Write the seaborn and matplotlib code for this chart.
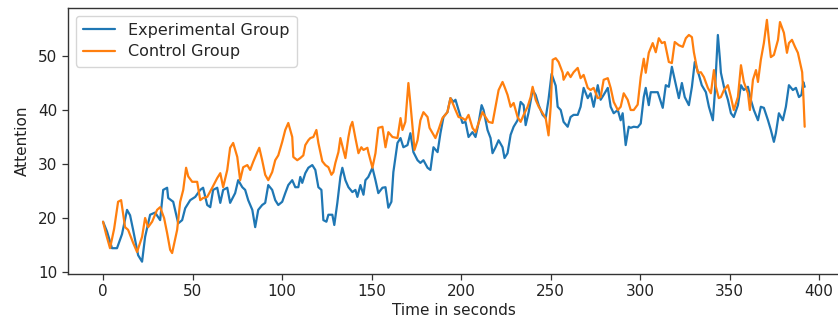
import matplotlib
matplotlib.use("Agg")
import matplotlib.pyplot as plt
import seaborn as sns
import pandas as pd

# Experimental group (blue)
exp_time = [0, 2.2, 5.0, 7.8, 10.6, 13.4, 15.1, 16.8, 19.6, 21.8, 23.5, 26.3, 29.1, 31.9, 33.6, 35.8, 36.4,
            39.2, 42.0, 44.2, 45.9, 48.7, 51.5, 54.3, 55.9, 58.2, 59.9, 61.5, 63.8, 65.5, 67.1, 69.4, 71.0,
            73.8, 75.5, 77.8, 79.4, 81.1, 83.4, 85.0, 86.7, 88.9, 90.6, 92.3, 94.5, 96.2, 97.9, 100.1, 101.8,
            103.5, 105.7, 107.4, 109.1, 110.2, 111.3, 113.0, 114.7, 116.9, 118.6, 120.3, 122.0, 123.1, 124.8,
            125.9, 128.1, 129.2, 130.9, 132.6, 133.7, 135.4, 137.1, 139.3, 141.0, 142.1, 143.8, 145.5, 146.6,
            148.2, 150.5, 152.2, 153.8, 156.1, 157.8, 159.4, 161.1, 162.2, 164.5, 166.2, 167.8, 170.1, 171.7,
            173.4, 175.7, 177.3, 179.0, 181.3, 182.9, 184.6, 186.9, 188.5, 190.2, 192.4, 194.1, 195.8, 196.9,
            198.6, 200.8, 202.5, 204.2, 206.4, 208.1, 209.8, 211.5, 212.6, 214.8, 216.5, 217.6, 219.3, 221.0,
            223.2, 224.3, 226.0, 227.7, 229.4, 231.6, 233.3, 235.0, 236.1, 237.8, 240.0, 241.7, 243.4, 245.6,
            247.3, 248.9, 250.6, 252.9, 254.0, 255.7, 257.3, 259.6, 261.2, 262.9, 265.2, 266.8, 268.5, 270.8,
            272.4, 274.1, 276.4, 278.0, 279.7, 282.0, 283.6, 285.3, 287.6, 289.2, 290.3, 292.0, 293.7, 294.8,
            296.5, 298.7, 300.4, 302.1, 303.2, 304.9, 306.0, 307.7, 309.9, 311.6, 312.7, 314.4, 316.1, 317.8,
            319.4, 321.7, 323.4, 325.0, 327.3, 329.0, 330.6, 332.9, 334.5, 336.8, 338.5, 340.7, 341.8, 343.5,
            344.6, 345.2, 346.9, 349.1, 350.8, 352.4, 354.7, 356.4, 358.0, 360.3, 361.9, 363.6, 365.9, 367.5,
            369.2, 371.5, 373.1, 374.8, 375.9, 377.6, 379.8, 381.5, 383.2, 385.4, 387.1, 388.8, 390.2, 391.2,
            392.0]
exp_attention = [19.3, 17.5, 14.4, 14.4, 17.0, 21.5, 20.5, 17.8, 13.1, 11.9, 16.5, 20.6, 21.0, 19.6, 25.2, 25.6,
                 23.7, 23.0, 19.0, 19.6, 21.8, 23.3, 23.9, 25.2, 25.6, 22.4, 22.0, 25.2, 25.6, 22.8, 25.2, 25.6,
                 22.8, 24.6, 27.0, 25.7, 25.2, 23.3, 21.5, 18.3, 21.5, 22.4, 22.8, 26.1, 25.2, 23.3, 22.4, 23.0,
                 24.6, 26.1, 27.0, 25.7, 25.7, 27.6, 26.5, 28.3, 29.3, 29.8, 28.9, 25.7, 25.2, 19.6, 19.3, 20.6,
                 20.6, 18.7, 22.8, 27.6, 29.3, 27.0, 25.7, 24.8, 25.2, 23.9, 26.1, 24.3, 27.0, 27.6, 29.3, 27.0,
                 24.6, 25.6, 25.7, 21.9, 23.0, 28.5, 33.9, 34.8, 33.1, 33.5, 35.7, 32.2, 30.7, 30.2, 30.7, 29.3,
                 28.9, 33.1, 32.2, 35.7, 38.7, 39.6, 42.2, 41.5, 41.9, 40.0, 37.6, 37.8, 35.0, 35.9, 35.0, 37.6,
                 40.9, 40.0, 36.3, 34.8, 32.0, 33.1, 34.4, 33.1, 31.1, 32.0, 35.4, 36.9, 38.1, 41.5, 40.9, 37.2,
                 39.6, 43.7, 42.8, 40.9, 39.1, 38.5, 42.0, 46.7, 44.5, 40.6, 40.0, 37.8, 36.9, 38.7, 39.1, 39.1,
                 40.6, 44.1, 42.2, 43.1, 40.6, 44.6, 41.9, 42.8, 44.1, 40.6, 39.4, 40.0, 38.1, 39.4, 33.5, 36.9,
                 36.7, 36.9, 36.8, 37.5, 42.4, 44.1, 40.9, 43.3, 43.3, 43.3, 41.5, 40.4, 44.6, 44.3, 48.0, 45.6,
                 42.2, 45.0, 42.4, 40.9, 44.3, 48.9, 46.5, 44.6, 43.3, 40.6, 38.1, 43.1, 53.9, 49.6, 46.9, 44.3,
                 41.9, 39.4, 38.7, 40.9, 44.6, 43.7, 44.3, 41.9, 40.0, 38.1, 40.6, 40.4, 38.1, 36.3, 34.1, 35.7,
                 39.4, 38.1, 40.6, 44.6, 43.7, 44.1, 42.4, 42.8, 45.2, 44.3]

# Control group (orange)
ctrl_time = [0, 1.7, 3.9, 6.2, 8.4, 10.1, 12.3, 14.0, 16.8, 19.0, 21.8, 23.5, 25.2, 27.4, 30.2, 31.9, 34.1,
             35.8, 37.5, 38.6, 41.4, 43.1, 44.8, 46.4, 47.6, 49.8, 52.6, 54.3, 55.9, 58.2, 61.0, 63.8, 65.5,
             67.1, 69.4, 71.0, 72.7, 75.0, 76.6, 78.3, 80.6, 82.2, 83.9, 86.2, 87.3, 88.9, 90.6, 92.3, 94.5,
             96.2, 97.9, 100.1, 101.8, 103.5, 105.7, 106.3, 108.5, 110.2, 111.9, 113.0, 114.7, 115.8, 117.5,
             119.2, 120.3, 122.5, 124.2, 125.9, 127.6, 128.7, 129.8, 131.5, 132.6, 134.3, 135.4, 137.1, 138.2,
             139.3, 141.0, 142.7, 144.3, 145.5, 147.7, 148.2, 149.4, 150.5, 152.2, 153.8, 156.1, 157.8, 159.4,
             161.7, 164.5, 166.2, 167.3, 168.9, 170.6, 171.7, 172.9, 174.0, 175.7, 177.3, 179.0, 181.3, 182.4,
             184.1, 185.7, 187.4, 189.6, 192.4, 194.1, 195.8, 196.9, 198.6, 200.8, 202.5, 204.2, 206.4, 208.1,
             209.8, 212.0, 213.7, 215.4, 217.6, 219.3, 221.0, 223.2, 224.3, 226.0, 227.7, 229.4, 231.6, 233.3,
             235.0, 237.2, 238.9, 240.0, 241.7, 243.4, 245.6, 247.3, 248.9, 250.1, 251.2, 252.9, 254.5, 256.8,
             257.3, 259.6, 261.2, 262.9, 265.2, 266.8, 268.5, 270.8, 272.4, 274.1, 276.4, 278.0, 279.7, 282.0,
             283.6, 285.3, 287.6, 289.2, 290.9, 293.1, 294.8, 296.5, 298.7, 300.4, 302.1, 303.2, 304.9, 307.1,
             308.8, 310.5, 312.2, 313.8, 316.1, 317.8, 319.4, 321.7, 323.9, 325.6, 327.3, 329.0, 330.1, 332.3,
             334.0, 335.7, 337.9, 339.6, 341.3, 342.4, 344.0, 345.2, 346.9, 349.1, 350.8, 352.4, 354.7, 356.4,
             358.0, 360.3, 361.4, 363.1, 364.8, 365.9, 367.5, 369.2, 370.9, 372.0, 373.1, 374.8, 377.1, 378.2,
             380.4, 382.1, 383.2, 384.9, 386.6, 388.2, 389.9, 390.6, 391.3, 392.0]
ctrl_attention = [19.3, 17.0, 14.4, 18.0, 23.0, 23.3, 18.3, 17.8, 15.4, 13.7, 16.5, 20.0, 18.3, 19.3, 21.5, 22.0,
                  20.0, 17.2, 14.1, 13.5, 17.8, 23.0, 25.2, 29.3, 27.7, 26.7, 26.7, 23.3, 23.7, 23.9, 25.6, 27.4,
                  28.3, 25.7, 28.9, 33.0, 33.9, 31.3, 27.0, 29.4, 29.8, 28.9, 30.4, 32.2, 33.0, 30.7, 28.0, 27.0,
                  28.5, 30.7, 31.6, 34.1, 36.3, 37.6, 35.0, 31.3, 30.7, 31.1, 31.6, 33.5, 34.4, 34.8, 35.0, 36.3,
                  33.9, 30.5, 29.8, 29.4, 28.0, 28.5, 30.2, 32.2, 34.8, 32.6, 31.1, 35.0, 36.9, 37.8, 34.8, 32.0,
                  33.1, 32.6, 33.0, 32.2, 30.7, 29.3, 32.0, 36.7, 36.9, 33.1, 35.9, 35.0, 34.8, 38.5, 36.3, 37.8,
                  45.0, 41.3, 36.9, 32.6, 34.4, 38.1, 39.6, 38.7, 36.7, 35.7, 34.8, 36.3, 38.5, 39.6, 42.2, 40.9,
                  40.0, 38.7, 38.5, 38.1, 39.1, 36.7, 35.9, 37.6, 39.6, 38.7, 37.8, 37.6, 40.6, 43.7, 45.2, 44.3,
                  42.8, 40.6, 41.3, 38.7, 37.8, 39.1, 40.6, 42.4, 44.3, 41.9, 40.6, 39.4, 38.5, 35.3, 40.6, 49.3,
                  49.6, 48.9, 46.9, 45.6, 47.0, 46.1, 47.0, 47.8, 45.9, 46.5, 44.1, 43.7, 44.1, 42.2, 42.4, 45.6,
                  45.9, 44.1, 41.5, 40.0, 40.6, 43.1, 41.9, 40.0, 40.0, 41.0, 46.1, 49.5, 46.9, 50.6, 52.4, 50.7,
                  53.3, 52.4, 52.6, 48.9, 48.7, 52.6, 52.0, 51.7, 53.3, 53.9, 53.5, 50.7, 46.9, 47.0, 46.1, 44.1,
                  43.1, 47.4, 44.3, 42.2, 42.4, 43.7, 44.6, 42.4, 40.0, 42.4, 48.3, 45.2, 43.1, 40.0, 45.6, 47.4,
                  45.2, 49.3, 52.4, 56.7, 53.0, 49.8, 50.2, 53.0, 56.3, 54.3, 50.6, 52.4, 53.0, 51.7, 50.6, 48.0,
                  47.0, 42.4, 36.9]

group_labels = ["Experimental Group", "Control Group"]
x_label = "Time in seconds"
y_label = "Attention"

df = pd.concat([
    pd.DataFrame({"Time": exp_time, "Attention": exp_attention, "Group": group_labels[0]}),
    pd.DataFrame({"Time": ctrl_time, "Attention": ctrl_attention, "Group": group_labels[1]}),
], ignore_index=True)

sns.set_style("ticks")
plt.rcParams["font.family"] = ["DejaVu Sans"]

fig = plt.figure(figsize=(8.38, 3.24), dpi=100)
ax = fig.add_axes([0.0811, 0.155, 0.921, 0.821])

sns.lineplot(data=df, x="Time", y="Attention", hue="Group", palette=["#1f77b4", "#ff7f0e"],
             estimator=None, sort=False, linewidth=1.6, ax=ax)

ax.set_xlim(-19.6, 411.6)
ax.set_ylim(9.66, 58.94)
ax.set_xticks([0, 50, 100, 150, 200, 250, 300, 350, 400])
ax.set_yticks([10, 20, 30, 40, 50])
ax.tick_params(labelsize=11, length=4, width=0.9, color="#333333", labelcolor="#222222")
for s in ax.spines.values():
    s.set_color("#333333")
    s.set_linewidth(1.0)
ax.set_xlabel(x_label, fontsize=11, color="#222222", labelpad=3)
ax.set_ylabel(y_label, fontsize=11, color="#222222", labelpad=6)

handles, labels = ax.get_legend_handles_labels()
ax.legend(handles, labels, loc="upper left", fontsize=11.5, frameon=True, handlelength=2.0,
          borderpad=0.45, labelspacing=0.4, fancybox=True)

fig.savefig("out.png", dpi=100)
